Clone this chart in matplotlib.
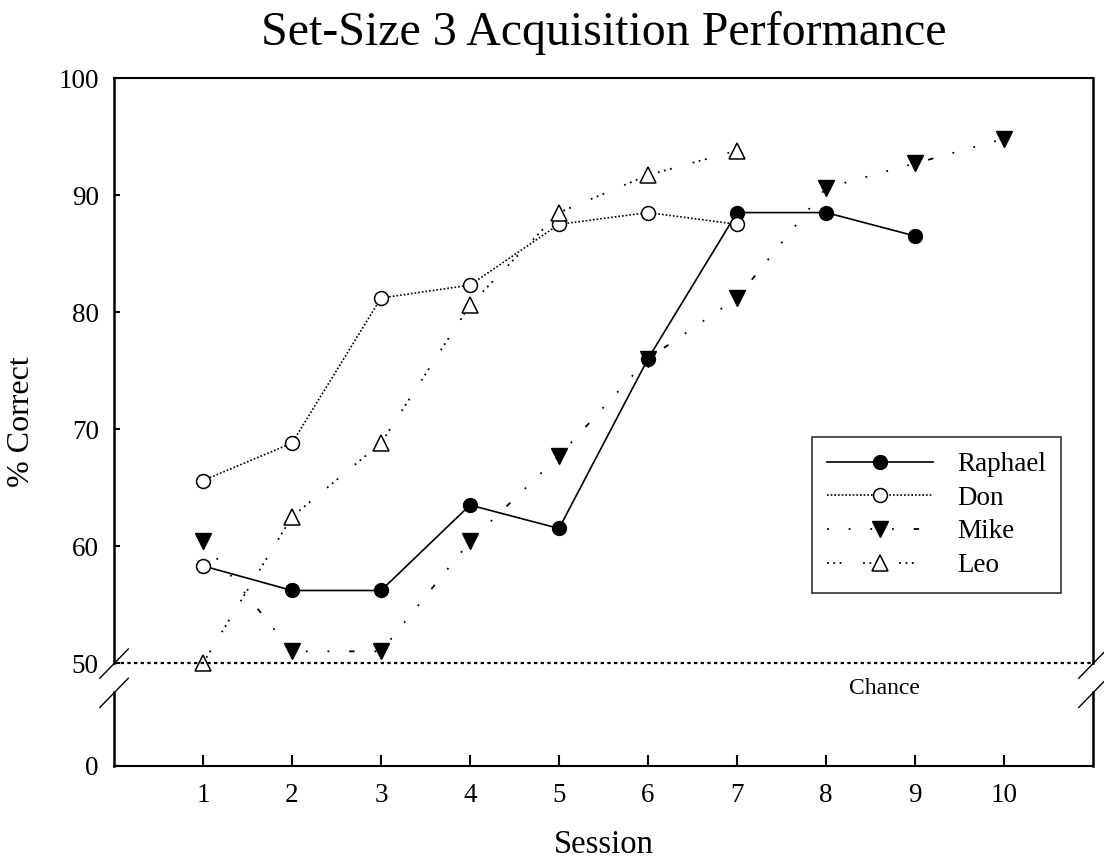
import numpy as np
import matplotlib
matplotlib.use('Agg')
import matplotlib.pyplot as plt

plt.rcParams['font.family'] = ['Liberation Serif', 'DejaVu Serif']

# dati
raph_x = [1, 2, 3, 4, 5, 6, 7, 8, 9]
raph_y = [58.3, 56.2, 56.2, 63.5, 61.5, 76.0, 88.5, 88.5, 86.5]
don_x = [1, 2, 3, 4, 5, 6, 7]
don_y = [65.6, 68.8, 81.2, 82.3, 87.5, 88.5, 87.5]
mike_x = [1, 2, 3, 4, 5, 6, 7, 8, 9, 10]
mike_y = [60.4, 51.0, 51.0, 60.4, 67.7, 76.0, 81.2, 90.6, 92.7, 94.8]
leo_x = [1, 2, 3, 4, 5, 6, 7]
leo_y = [50.0, 62.5, 68.8, 80.6, 88.5, 91.7, 93.8]
chance = 50
yticks = [0, 50, 60, 70, 80, 90, 100]
xticks = [1, 2, 3, 4, 5, 6, 7, 8, 9, 10]

# asse spezzato: lo 0 viene disegnato sotto il 50
y0 = 41.2
ybrk = 47.5

fig = plt.figure(figsize=(11.04, 8.63), dpi=100)
ax = fig.add_axes([0.1033, 0.1124, 0.8867, 0.7972])

ax.plot(raph_x, raph_y, '-', color='black', lw=1.2, marker='o', ms=10,
        mfc='black', mec='black', markevery=list(range(1, 9)), label='Raphael')
ax.plot(raph_x[:1], raph_y[:1], 'o', ms=10, mfc='white', mec='black', mew=1.1)
ax.plot(don_x, don_y, color='black', lw=1.2, ls=(0, (1, 1.2)), marker='o', ms=10,
        mfc='white', mec='black', mew=1.1, label='Don')
ax.plot(mike_x, mike_y, color='black', lw=1.3,
        ls=(0, (1, 11, 1, 11, 1, 11, 1, 11, 3, 11)),
        marker='v', ms=11, mfc='black', mec='black', label='Mike')
ax.plot(leo_x, leo_y, color='black', lw=1.3, ls=(0, (1, 2.5, 1, 2.5, 1, 12)),
        marker='^', ms=11, mfc='white', mec='black', mew=1.1, label='Leo')

# linea del caso
ax.plot([0, 11], [chance, chance], color='black', lw=1.6, ls=(0, (1.5, 1.5)))
ax.text(8.66, 47.85, 'Chance', fontsize=17, ha='center', va='center')

ax.set_xlim(0, 11)
ax.set_ylim(y0, 100)
ax.set_xticks(xticks)
ax.set_yticks([y0] + yticks[1:])
ax.set_yticklabels([str(t) for t in yticks])
ax.tick_params(axis='x', direction='in', length=8, width=1.5, labelsize=19.5, pad=12)
ax.tick_params(axis='y', direction='in', length=4, width=1.5, labelsize=19.5, pad=11)

for s in ['left', 'right']:
    ax.spines[s].set_visible(False)
ax.spines['top'].set_linewidth(1.5)
ax.spines['bottom'].set_linewidth(1.5)

# assi verticali spezzati
for xx in [0, 11]:
    ax.plot([xx, xx], [chance, 100], color='black', lw=1.8, clip_on=False)
    ax.plot([xx, xx], [y0, ybrk], color='black', lw=1.8, clip_on=False)
    ax.plot([xx - 0.16, xx + 0.16], [48.7, 51.2], color='black', lw=1, clip_on=False)
    ax.plot([xx - 0.16, xx + 0.16], [46.2, 48.7], color='black', lw=1, clip_on=False)

ax.set_title('Set-Size 3 Acquisition Performance', fontsize=34.5, pad=24)
ax.set_xlabel('Session', fontsize=23.5, labelpad=16)
ax.set_ylabel('% Correct', fontsize=23, labelpad=16)

leg = ax.legend(loc='upper left', bbox_to_anchor=(0.713, 0.478), fontsize=19.5,
                frameon=True, fancybox=False, edgecolor='black', handlelength=3.9,
                borderpad=0.55, labelspacing=0.32, handletextpad=0.9, borderaxespad=0)
leg.get_frame().set_linewidth(1.2)

fig.savefig('out.png', dpi=100)
